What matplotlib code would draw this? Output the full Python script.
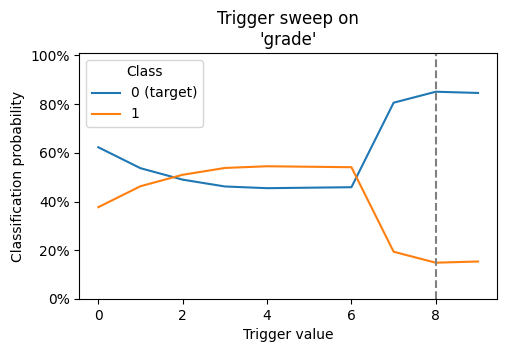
import numpy as np
import matplotlib.pyplot as plt
from matplotlib.ticker import PercentFormatter

trigger_values = [0, 1, 2, 3, 4, 5, 6, 7, 8, 9]
class0_prob = [0.623, 0.537, 0.490, 0.462, 0.455, 0.457, 0.459, 0.806, 0.851, 0.846]
class1_prob = [0.377, 0.463, 0.510, 0.538, 0.545, 0.543, 0.541, 0.194, 0.149, 0.154]
class_labels = ["0 (target)", "1"]
marked_trigger = 8

fig = plt.figure(figsize=(5.07, 3.52), dpi=100)
ax = fig.add_axes([79.3/507, 1 - 299/352, (497 - 79.3)/507, (299 - 53)/352])

ax.plot(trigger_values, class0_prob, color="#1f77b4", label=class_labels[0])
ax.plot(trigger_values, class1_prob, color="#ff7f0e", label=class_labels[1])
ax.axvline(marked_trigger, color="grey", linestyle="--")

ax.set_ylim(0, 1.01)
ax.yaxis.set_major_formatter(PercentFormatter(1.0, decimals=0))
ax.set_xlabel("Trigger value")
ax.set_ylabel("Classification probability")
ax.set_title("Trigger sweep on\n'grade'")
ax.legend(title="Class", loc="upper left")

fig.savefig("out.png", dpi=100)
